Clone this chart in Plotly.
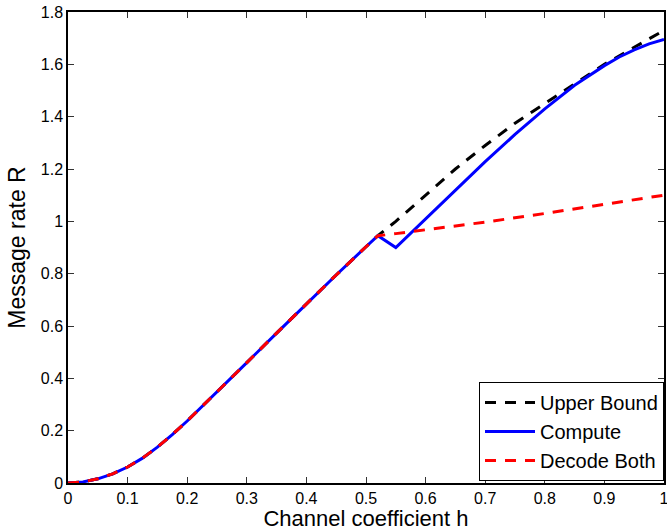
import plotly.graph_objects as go

# Shared low-h region (all three schemes coincide up to h ~ 0.52)
h_low = [0.0, 0.025, 0.05, 0.075, 0.1, 0.125, 0.15, 0.175, 0.2, 0.25, 0.3, 0.35, 0.4, 0.45, 0.5, 0.52]
r_low = [0.0, 0.004, 0.016, 0.035, 0.061, 0.095, 0.137, 0.185, 0.237, 0.347, 0.46, 0.573, 0.685, 0.795, 0.903, 0.945]

# Upper bound beyond the split point
h_ub = [0.55, 0.6, 0.65, 0.7, 0.75, 0.8, 0.85, 0.9, 0.95, 1.0]
r_ub = [1.0, 1.10, 1.20, 1.29, 1.375, 1.45, 1.525, 1.60, 1.665, 1.73]

# Compute-and-forward beyond the split point (small dip at h = 0.55)
h_cf = [0.55, 0.6, 0.65, 0.7, 0.75, 0.8, 0.85, 0.9, 0.925, 0.95, 0.975, 1.0]
r_cf = [0.90, 1.01, 1.122, 1.228, 1.332, 1.43, 1.52, 1.595, 1.628, 1.655, 1.678, 1.695]

# Decode-both beyond the split point
h_db = [0.55, 0.6, 0.7, 0.8, 0.9, 1.0]
r_db = [0.953, 0.967, 0.997, 1.03, 1.064, 1.10]

x_ticks = [0, 0.1, 0.2, 0.3, 0.4, 0.5, 0.6, 0.7, 0.8, 0.9, 1]
x_tick_text = ["0", "0.1", "0.2", "0.3", "0.4", "0.5", "0.6", "0.7", "0.8", "0.9", "1"]
y_ticks = [0, 0.2, 0.4, 0.6, 0.8, 1.0, 1.2, 1.4, 1.6, 1.8]
y_tick_text = ["0", "0.2", "0.4", "0.6", "0.8", "1", "1.2", "1.4", "1.6", "1.8"]

FONT = "Liberation Sans, Arial, Helvetica, sans-serif"
DASH = "11px,9px"

fig = go.Figure()
fig.add_trace(go.Scatter(
    x=h_low + h_ub, y=r_low + r_ub, mode="lines", name="Upper Bound",
    line=dict(color="black", width=3, dash=DASH),
))
fig.add_trace(go.Scatter(
    x=h_low + h_cf, y=r_low + r_cf, mode="lines", name="Compute",
    line=dict(color="#0000ff", width=3),
))
fig.add_trace(go.Scatter(
    x=h_low + h_db, y=r_low + r_db, mode="lines", name="Decode Both",
    line=dict(color="#ff0000", width=3, dash=DASH),
))

axis_common = dict(
    showgrid=False, zeroline=False, showline=True, linecolor="black", linewidth=1.5,
    mirror="ticks", ticks="inside", ticklen=6, tickwidth=1, tickcolor="#333333",
    tickfont=dict(family=FONT, size=16, color="black"),
    ticklabeloverflow="allow", automargin=False,
)

fig.update_layout(
    width=667, height=531,
    margin=dict(l=68, r=3, t=12, b=48),
    paper_bgcolor="white", plot_bgcolor="white",
    font=dict(family=FONT, color="black"),
    xaxis=dict(
        range=[0, 1], tickvals=x_ticks, ticktext=x_tick_text,
        title=dict(text="Channel coefficient h", font=dict(family=FONT, size=22), standoff=6),
        **axis_common,
    ),
    yaxis=dict(
        range=[0, 1.8], tickvals=y_ticks, ticktext=y_tick_text,
        title=dict(text="Message rate R", font=dict(family=FONT, size=23), standoff=9),
        **axis_common,
    ),
    legend=dict(
        x=1, y=0.004, xanchor="right", yanchor="bottom",
        bgcolor="white", bordercolor="black", borderwidth=1,
        itemwidth=50,
        font=dict(family=FONT, size=20, color="black"),
    ),
    showlegend=True,
)

fig.write_html("out.html")
